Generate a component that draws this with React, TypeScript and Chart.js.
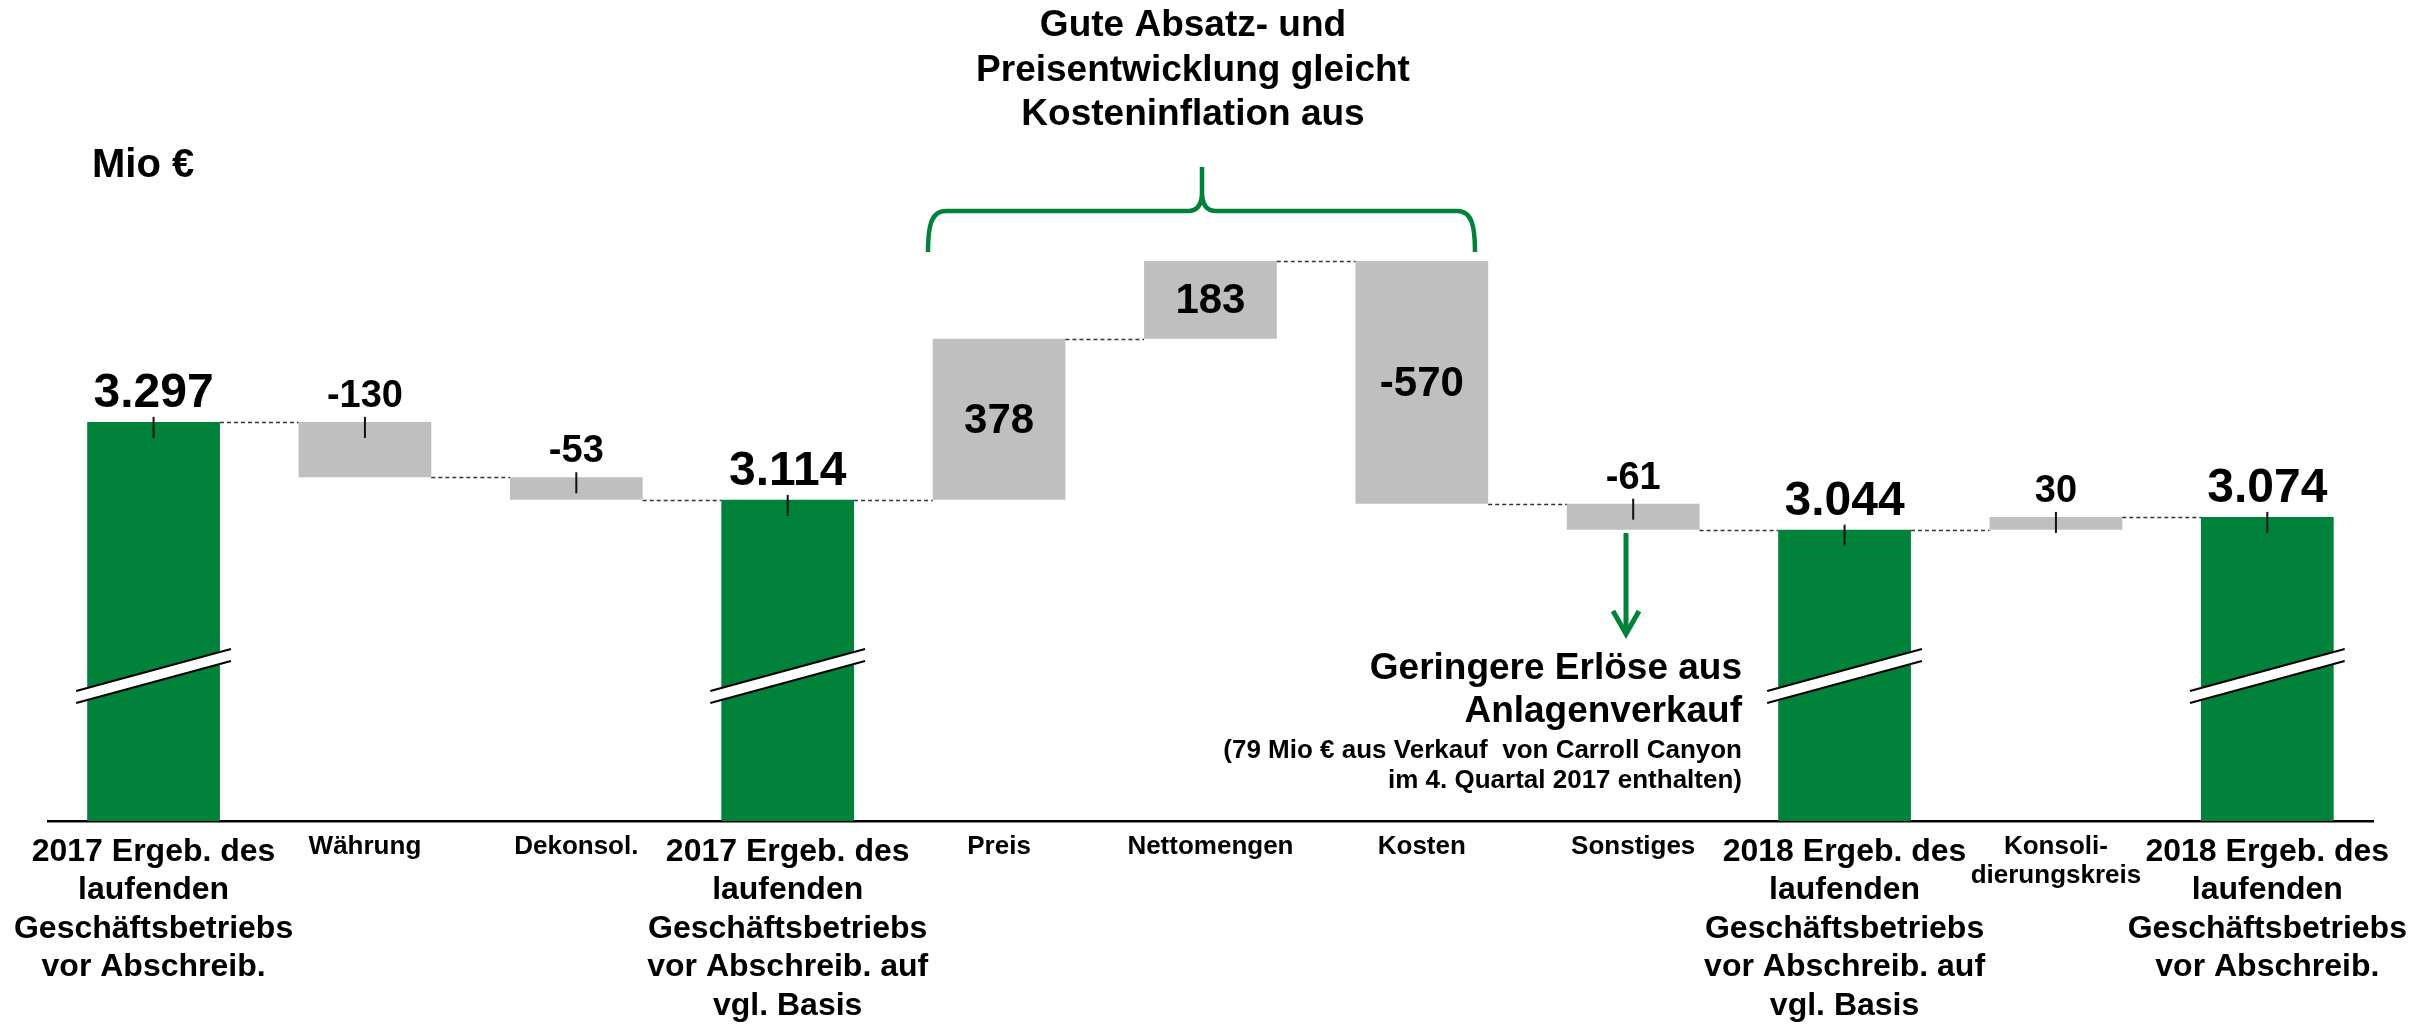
import React, { useEffect, useRef } from 'react';
import { Chart, registerables } from 'chart.js';

Chart.register(...registerables);

const W = 2435;
const H = 1025;
const FONT = '"Liberation Sans", Arial, Helvetica, sans-serif';

// ---- data ----
const categories: string[][] = [
  ['2017 Ergeb. des', 'laufenden', 'Geschäftsbetriebs', 'vor Abschreib.'],
  ['Währung'],
  ['Dekonsol.'],
  ['2017 Ergeb. des', 'laufenden', 'Geschäftsbetriebs', 'vor Abschreib. auf', 'vgl. Basis'],
  ['Preis'],
  ['Nettomengen'],
  ['Kosten'],
  ['Sonstiges'],
  ['2018 Ergeb. des', 'laufenden', 'Geschäftsbetriebs', 'vor Abschreib. auf', 'vgl. Basis'],
  ['Konsoli-', 'dierungskreis'],
  ['2018 Ergeb. des', 'laufenden', 'Geschäftsbetriebs', 'vor Abschreib.'],
];
const changes = [3297, -130, -53, 3114, 378, 183, -570, -61, 3044, 30, 3074];
const isTotal = [true, false, false, true, false, false, false, false, true, false, true];
const labelInside = [false, false, false, false, true, true, true, false, false, false, false];
const yAxisMin = 2360;
const yAxisMax = 4250;

const unitLabel = 'Mio €';
const noteTop = ['Gute Absatz- und', 'Preisentwicklung gleicht', 'Kosteninflation aus'];
const noteRightMain = ['Geringere Erlöse aus', 'Anlagenverkauf'];
const noteRightSub = ['(79 Mio € aus Verkauf  von Carroll Canyon', 'im 4. Quartal 2017 enthalten)'];

const GREEN = '#00823B';
const GRAY = '#BFBFBF';

function buildRanges(): number[][] {
  let run = 0;
  return changes.map((v, i) => {
    if (isTotal[i]) {
      run = v;
      return [0, v];
    }
    const s = run;
    run += v;
    return [s, run];
  });
}

function fmt(v: number): string {
  const s = Math.abs(v).toString().replace(/\B(?=(\d{3})+(?!\d))/g, '.');
  return (v < 0 ? '-' : '') + s;
}

const ranges = buildRanges();

const overlayPlugin = {
  id: 'waterfallOverlay',
  afterDatasetsDraw(chart: any) {
    const ctx: CanvasRenderingContext2D = chart.ctx;
    const meta = chart.getDatasetMeta(0);
    const yScale = chart.scales.y;
    const bars = meta.data;

    ctx.save();
    // connectors
    ctx.strokeStyle = '#333333';
    ctx.lineWidth = 1.3;
    ctx.setLineDash([4, 3]);
    for (let i = 0; i < bars.length - 1; i++) {
      const a = bars[i];
      const b = bars[i + 1];
      const y = Math.round(yScale.getPixelForValue(ranges[i][1])) + 0.5;
      ctx.beginPath();
      ctx.moveTo(a.x + a.width / 2, y);
      ctx.lineTo(b.x - b.width / 2, y);
      ctx.stroke();
    }
    ctx.setLineDash([]);

    // axis break marks on total bars
    for (let i = 0; i < bars.length; i++) {
      if (!isTotal[i]) continue;
      const bar = bars[i];
      const x0 = bar.x - bar.width / 2 - 11;
      const x1 = bar.x + bar.width / 2 + 11;
      const yL = 691;
      const yR = 649;
      const gap = 12;
      ctx.fillStyle = '#ffffff';
      ctx.beginPath();
      ctx.moveTo(x0, yL);
      ctx.lineTo(x1, yR);
      ctx.lineTo(x1, yR + gap);
      ctx.lineTo(x0, yL + gap);
      ctx.closePath();
      ctx.fill();
      ctx.strokeStyle = '#000000';
      ctx.lineWidth = 2;
      ctx.beginPath();
      ctx.moveTo(x0, yL);
      ctx.lineTo(x1, yR);
      ctx.moveTo(x0, yL + gap);
      ctx.lineTo(x1, yR + gap);
      ctx.stroke();
    }

    // value labels + top ticks
    for (let i = 0; i < bars.length; i++) {
      const bar = bars[i];
      const top = Math.min(bar.y, bar.base);
      const bottom = Math.min(Math.max(bar.y, bar.base), chart.chartArea.bottom);
      ctx.fillStyle = '#000000';
      ctx.textAlign = 'center';
      if (labelInside[i]) {
        ctx.font = `bold 42px ${FONT}`;
        ctx.textBaseline = 'middle';
        ctx.fillText(fmt(changes[i]), bar.x, (top + bottom) / 2 + 2);
      } else {
        ctx.strokeStyle = '#111111';
        ctx.lineWidth = 2;
        ctx.beginPath();
        ctx.moveTo(bar.x, top - 5);
        ctx.lineTo(bar.x, top + 16);
        ctx.stroke();
        ctx.textBaseline = 'alphabetic';
        if (isTotal[i]) {
          ctx.font = `bold 48px ${FONT}`;
          ctx.fillText(fmt(changes[i]), bar.x, top - 15);
        } else {
          ctx.font = `bold 38px ${FONT}`;
          ctx.fillText(fmt(changes[i]), bar.x, top - 15);
        }
      }
    }
    ctx.restore();
  },
  afterDraw(chart: any) {
    const ctx: CanvasRenderingContext2D = chart.ctx;
    ctx.save();
    ctx.fillStyle = '#000000';
    ctx.textBaseline = 'alphabetic';

    // unit
    ctx.textAlign = 'left';
    ctx.font = `bold 40px ${FONT}`;
    ctx.fillText(unitLabel, 92, 177);

    // top note
    ctx.textAlign = 'center';
    ctx.font = `bold 37px ${FONT}`;
    noteTop.forEach((t, k) => ctx.fillText(t, 1193, 36 + k * 44.5));

    // bracket
    ctx.strokeStyle = GREEN;
    ctx.lineWidth = 4.5;
    ctx.lineJoin = 'round';
    ctx.lineCap = 'butt';
    const lx = 928, rx = 1475, tipX = 1202, by = 252, hy = 211, ty = 167;
    ctx.beginPath();
    ctx.moveTo(lx, by);
    ctx.bezierCurveTo(lx, 226, lx + 3, hy, lx + 18, hy);
    ctx.lineTo(tipX - 14, hy);
    ctx.quadraticCurveTo(tipX, hy, tipX, 192);
    ctx.lineTo(tipX, ty);
    ctx.moveTo(rx, by);
    ctx.bezierCurveTo(rx, 226, rx - 3, hy, rx - 18, hy);
    ctx.lineTo(tipX + 14, hy);
    ctx.quadraticCurveTo(tipX, hy, tipX, 192);
    ctx.stroke();

    // arrow under "Sonstiges"
    const ax = 1626;
    ctx.lineWidth = 5;
    ctx.beginPath();
    ctx.moveTo(ax, 533);
    ctx.lineTo(ax, 632);
    ctx.stroke();
    ctx.lineJoin = 'miter';
    ctx.beginPath();
    ctx.moveTo(ax - 13, 611);
    ctx.lineTo(ax, 634);
    ctx.lineTo(ax + 13, 611);
    ctx.stroke();

    // right note
    ctx.textAlign = 'right';
    ctx.font = `bold 37px ${FONT}`;
    ctx.fillText(noteRightMain[0], 1742, 679);
    ctx.fillText(noteRightMain[1], 1742, 722);
    ctx.font = `bold 26px ${FONT}`;
    ctx.fillText(noteRightSub[0], 1742, 758);
    ctx.fillText(noteRightSub[1], 1742, 788);

    ctx.restore();
  },
};

export default function App() {
  const ref = useRef<HTMLCanvasElement | null>(null);

  useEffect(() => {
    if (!ref.current) return;
    Chart.defaults.font.family = FONT;
    const chart = new Chart(ref.current, {
      type: 'bar',
      data: {
        labels: categories,
        datasets: [
          {
            data: ranges as any,
            backgroundColor: changes.map((_, i) => (isTotal[i] ? GREEN : GRAY)),
            borderWidth: 0,
            barPercentage: 0.628,
            categoryPercentage: 1,
          },
        ],
      },
      options: {
        responsive: false,
        animation: false,
        devicePixelRatio: 1,
        layout: { padding: { left: 43, right: 62, top: 16, bottom: 0 } },
        plugins: {
          legend: { display: false },
          tooltip: { enabled: false },
        },
        scales: {
          x: {
            grid: { display: false, drawTicks: false },
            border: { display: true, color: '#000000', width: 2.5 },
            afterFit: (scale: any) => {
              scale.height = 204;
            },
            ticks: {
              autoSkip: false,
              maxRotation: 0,
              minRotation: 0,
              padding: 12,
              color: '#000000',
              font: (c: any) =>
                isTotal[c.index]
                  ? { family: FONT, size: 32, weight: 'bold', lineHeight: 1.2 }
                  : { family: FONT, size: 26, weight: 'bold', lineHeight: 1.1 },
            },
          },
          y: {
            display: false,
            min: yAxisMin,
            max: yAxisMax,
          },
        },
      },
      plugins: [overlayPlugin],
    });
    return () => chart.destroy();
  }, []);

  return (
    <div style={{ position: 'absolute', left: 0, top: 0, width: W, height: H, background: '#fff' }}>
      <canvas ref={ref} width={W} height={H} style={{ display: 'block', width: W, height: H }} />
    </div>
  );
}
